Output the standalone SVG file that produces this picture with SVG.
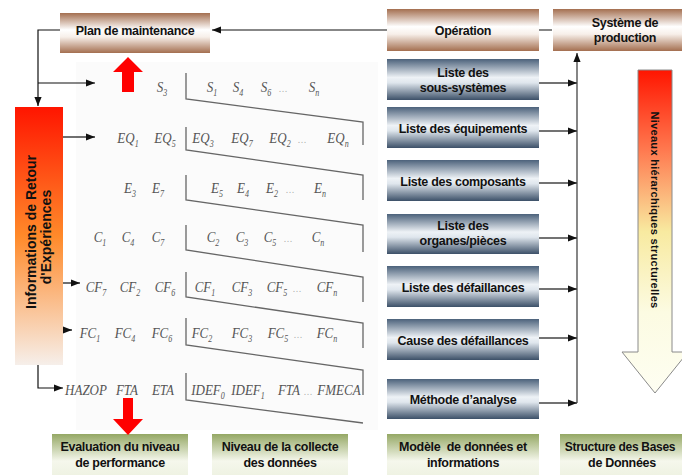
<svg xmlns="http://www.w3.org/2000/svg" width="682" height="475" viewBox="0 0 682 475">
<defs>
<linearGradient id="brown" x1="0" y1="0" x2="0" y2="1">
<stop offset="0" stop-color="#a46f50"/><stop offset="0.42" stop-color="#ffffff"/><stop offset="0.6" stop-color="#f7efe9"/><stop offset="1" stop-color="#a46f50"/>
</linearGradient>
<linearGradient id="blue" x1="0" y1="0" x2="0" y2="1">
<stop offset="0" stop-color="#4c627b"/><stop offset="0.45" stop-color="#eef2f6"/><stop offset="0.58" stop-color="#dfe6ed"/><stop offset="1" stop-color="#3c5068"/>
</linearGradient>
<linearGradient id="green" x1="0" y1="0" x2="0" y2="1">
<stop offset="0" stop-color="#95a865"/><stop offset="0.6" stop-color="#f5f7ec"/><stop offset="1" stop-color="#edf1e0"/>
</linearGradient>
<linearGradient id="redbox" x1="0" y1="0" x2="0" y2="1">
<stop offset="0" stop-color="#ff1500"/><stop offset="0.5" stop-color="#ff8a2a"/><stop offset="1" stop-color="#f6efea"/>
</linearGradient>
<linearGradient id="bigarrow" x1="0" y1="0" x2="0" y2="1">
<stop offset="0" stop-color="#ff1500"/><stop offset="0.25" stop-color="#ff7a50"/><stop offset="0.5" stop-color="#f8eaa0"/><stop offset="0.75" stop-color="#fcfbe2"/><stop offset="1" stop-color="#fefef2"/>
</linearGradient>
<marker id="ah" viewBox="0 0 10 10" refX="10" refY="5" markerWidth="9" markerHeight="9" markerUnits="userSpaceOnUse" orient="auto">
<path d="M0,1 L10,5 L0,9 Z" fill="#111"/>
</marker>
<style>
.bt{font-family:"Liberation Sans",Arial,sans-serif;font-weight:bold;font-size:12.5px;fill:#111;text-anchor:middle;letter-spacing:-0.3px}
.vt{font-family:"Liberation Sans",Arial,sans-serif;font-weight:bold;fill:#111;text-anchor:middle}
.d{font-family:"Liberation Serif","Times New Roman",serif;font-style:italic;font-size:13px;fill:#555;text-anchor:middle}
.dots{font-family:"Liberation Serif",serif;font-size:9px;fill:#aaa;text-anchor:middle}
.sub{font-size:8px}
.ln{stroke:#111;stroke-width:1.2;fill:none}
.br{stroke:#666;stroke-width:1.3;fill:none}
.gr{stroke:#444;stroke-width:1.3;fill:none}
</style>
</defs>
<rect width="682" height="475" fill="#fff"/>
<rect x="76" y="62" width="302" height="368" fill="#fbfbfb"/>

<g id="connectors">
<path class="ln" d="M552,30 H212" marker-end="url(#ah)"/>
<path class="ln" d="M60,30 H38 V106" marker-end="url(#ah)"/>
<path class="ln" d="M38,83 H95" marker-end="url(#ah)"/>
<path class="ln" d="M63,137 H95" marker-end="url(#ah)"/>
<path class="ln" d="M63,283 H80" marker-end="url(#ah)"/>
<path class="ln" d="M55,330 H72" marker-end="url(#ah)"/>
<path class="ln" d="M38,365 V388 H63" marker-end="url(#ah)"/>
<path class="gr" d="M577,403 V53" marker-end="url(#ah)"/>
<path class="gr" d="M539,83 H577" marker-end="url(#ah)"/>
<path class="gr" d="M539,131 H577" marker-end="url(#ah)"/>
<path class="gr" d="M539,183 H577" marker-end="url(#ah)"/>
<path class="gr" d="M539,238 H577" marker-end="url(#ah)"/>
<path class="gr" d="M539,289 H577" marker-end="url(#ah)"/>
<path class="gr" d="M539,338 H577" marker-end="url(#ah)"/>
<path class="gr" d="M539,403 H577" marker-end="url(#ah)"/>
</g>

<g id="plan-maintenance"><rect x="60" y="13" width="150" height="40" fill="url(#brown)"/><text class="bt" x="135" y="34.5">Plan de maintenance</text></g>
<g id="operation"><rect x="387" y="9" width="152" height="42" fill="url(#brown)"/><text class="bt" x="463" y="35">Opération</text></g>
<g id="systeme-production"><rect x="553" y="9" width="144" height="42" fill="url(#brown)"/><text class="bt" x="625" y="27">Système de</text><text class="bt" x="625" y="42">production</text></g>

<g id="liste-sous-systemes"><rect x="387" y="59" width="152" height="41" fill="url(#blue)"/><text class="bt" x="463" y="77">Liste des</text><text class="bt" x="463" y="92">sous-systèmes</text></g>
<g id="liste-equipements"><rect x="387" y="107" width="152" height="41" fill="url(#blue)"/><text class="bt" x="463" y="132.5">Liste des équipements</text></g>
<g id="liste-composants"><rect x="387" y="160" width="152" height="41" fill="url(#blue)"/><text class="bt" x="463" y="185.5">Liste des composants</text></g>
<g id="liste-organes"><rect x="387" y="214" width="152" height="40" fill="url(#blue)"/><text class="bt" x="463" y="230">Liste des</text><text class="bt" x="463" y="245">organes/pièces</text></g>
<g id="liste-defaillances"><rect x="387" y="266" width="152" height="41" fill="url(#blue)"/><text class="bt" x="463" y="292">Liste des défaillances</text></g>
<g id="cause-defaillances"><rect x="387" y="319" width="152" height="41" fill="url(#blue)"/><text class="bt" x="463" y="345">Cause des défaillances</text></g>
<g id="methode-analyse"><rect x="387" y="379" width="152" height="40" fill="url(#blue)"/><text class="bt" x="463" y="403.5">Méthode d’analyse</text></g>

<g id="evaluation"><rect x="52" y="434" width="136" height="45" fill="url(#green)"/><text class="bt" x="120" y="451">Evaluation du niveau</text><text class="bt" x="120" y="467">de performance</text></g>
<g id="niveau-collecte"><rect x="212" y="434" width="136" height="45" fill="url(#green)"/><text class="bt" x="280" y="451">Niveau de la collecte</text><text class="bt" x="280" y="467">des données</text></g>
<g id="modele-donnees"><rect x="387" y="434" width="152" height="45" fill="url(#green)"/><text class="bt" x="463" y="451" xml:space="preserve">Modèle  de données et</text><text class="bt" x="463" y="467">informations</text></g>
<g id="structure-bd"><rect x="560" y="434" width="132" height="45" fill="url(#green)"/><text class="bt" x="620" y="451" style="font-size:12px">Structure des Bases</text><text class="bt" x="622" y="467">de Données</text></g>

<g id="retour-experiences"><rect x="15" y="107" width="48" height="258" fill="url(#redbox)"/>
<text class="vt" font-size="14" transform="translate(36,232) rotate(-90)">Informations de Retour</text>
<text class="vt" font-size="14" transform="translate(51,237) rotate(-90)">d'Expériences</text></g>

<g id="niveaux-hierarchiques"><path d="M638,70 H672 V352 H688 L655,393 L622,352 H638 Z" fill="url(#bigarrow)" stroke="#8a8a8a" stroke-width="1"/>
<text class="vt" font-size="11" letter-spacing="0.3" transform="translate(651,210) rotate(90)">Niveaux hiérarchiques structurelles</text></g>

<g id="fleche-haut"><path d="M128,57 L143,72 H134 V92 H122 V72 H113 Z" fill="#f00"/></g>
<g id="fleche-bas"><path d="M123,398 H133 V419 H143 L128,435 L113,419 H123 Z" fill="#f00"/></g>

<g id="brackets">
<path class="br" d="M186,73 V99 L363,122 V145"/>
<path class="br" d="M186,127 V150 L363,175 V200"/>
<path class="br" d="M186,175 V200 L363,225 V252"/>
<path class="br" d="M186,225 V250 L363,277 V302"/>
<path class="br" d="M186,272 V297 L363,323 V348"/>
<path class="br" d="M186,318 V345 L363,370 V395"/>
<path class="br" d="M186,373 V400 L363,423"/>
</g>

<g id="donnees">
<g transform="translate(0,92) scale(1,1.2)">
<text class="d" x="162">S<tspan class="sub" dy="3">3</tspan></text>
<text class="d" x="212">S<tspan class="sub" dy="3">1</tspan></text>
<text class="d" x="238">S<tspan class="sub" dy="3">4</tspan></text>
<text class="d" x="266">S<tspan class="sub" dy="3">6</tspan></text>
<text class="dots" x="283">…</text>
<text class="d" x="314">S<tspan class="sub" dy="3">n</tspan></text>
</g>
<g transform="translate(0,143) scale(1,1.2)">
<text class="d" x="128">EQ<tspan class="sub" dy="3">1</tspan></text>
<text class="d" x="165">EQ<tspan class="sub" dy="3">5</tspan></text>
<text class="d" x="203">EQ<tspan class="sub" dy="3">3</tspan></text>
<text class="d" x="242">EQ<tspan class="sub" dy="3">7</tspan></text>
<text class="d" x="280">EQ<tspan class="sub" dy="3">2</tspan></text>
<text class="dots" x="302">…</text>
<text class="d" x="338">EQ<tspan class="sub" dy="3">n</tspan></text>
</g>
<g transform="translate(0,193) scale(1,1.2)">
<text class="d" x="130">E<tspan class="sub" dy="3">3</tspan></text>
<text class="d" x="158">E<tspan class="sub" dy="3">7</tspan></text>
<text class="d" x="217">E<tspan class="sub" dy="3">5</tspan></text>
<text class="d" x="243">E<tspan class="sub" dy="3">4</tspan></text>
<text class="d" x="272">E<tspan class="sub" dy="3">2</tspan></text>
<text class="dots" x="290">…</text>
<text class="d" x="320">E<tspan class="sub" dy="3">n</tspan></text>
</g>
<g transform="translate(0,242) scale(1,1.2)">
<text class="d" x="100">C<tspan class="sub" dy="3">1</tspan></text>
<text class="d" x="128">C<tspan class="sub" dy="3">4</tspan></text>
<text class="d" x="158">C<tspan class="sub" dy="3">7</tspan></text>
<text class="d" x="213">C<tspan class="sub" dy="3">2</tspan></text>
<text class="d" x="242">C<tspan class="sub" dy="3">3</tspan></text>
<text class="d" x="270">C<tspan class="sub" dy="3">5</tspan></text>
<text class="dots" x="288">…</text>
<text class="d" x="318">C<tspan class="sub" dy="3">n</tspan></text>
</g>
<g transform="translate(0,292) scale(1,1.2)">
<text class="d" x="96">CF<tspan class="sub" dy="3">7</tspan></text>
<text class="d" x="130">CF<tspan class="sub" dy="3">2</tspan></text>
<text class="d" x="165">CF<tspan class="sub" dy="3">6</tspan></text>
<text class="d" x="205">CF<tspan class="sub" dy="3">1</tspan></text>
<text class="d" x="242">CF<tspan class="sub" dy="3">3</tspan></text>
<text class="d" x="277">CF<tspan class="sub" dy="3">5</tspan></text>
<text class="dots" x="297">…</text>
<text class="d" x="327">CF<tspan class="sub" dy="3">n</tspan></text>
</g>
<g transform="translate(0,338) scale(1,1.2)">
<text class="d" x="90">FC<tspan class="sub" dy="3">1</tspan></text>
<text class="d" x="125">FC<tspan class="sub" dy="3">4</tspan></text>
<text class="d" x="162">FC<tspan class="sub" dy="3">6</tspan></text>
<text class="d" x="202">FC<tspan class="sub" dy="3">2</tspan></text>
<text class="d" x="242">FC<tspan class="sub" dy="3">3</tspan></text>
<text class="d" x="278">FC<tspan class="sub" dy="3">5</tspan></text>
<text class="dots" x="298">…</text>
<text class="d" x="327">FC<tspan class="sub" dy="3">n</tspan></text>
</g>
<g transform="translate(0,395) scale(1,1.2)">
<text class="d" x="86">HAZOP</text>
<text class="d" x="127">FTA</text>
<text class="d" x="163">ETA</text>
<text class="d" x="208">IDEF<tspan class="sub" dy="3">0</tspan></text>
<text class="d" x="248">IDEF<tspan class="sub" dy="3">1</tspan></text>
<text class="d" x="289">FTA</text>
<text class="dots" x="308">…</text>
<text class="d" x="339">FMECA</text>
</g>
</g>
</svg>
